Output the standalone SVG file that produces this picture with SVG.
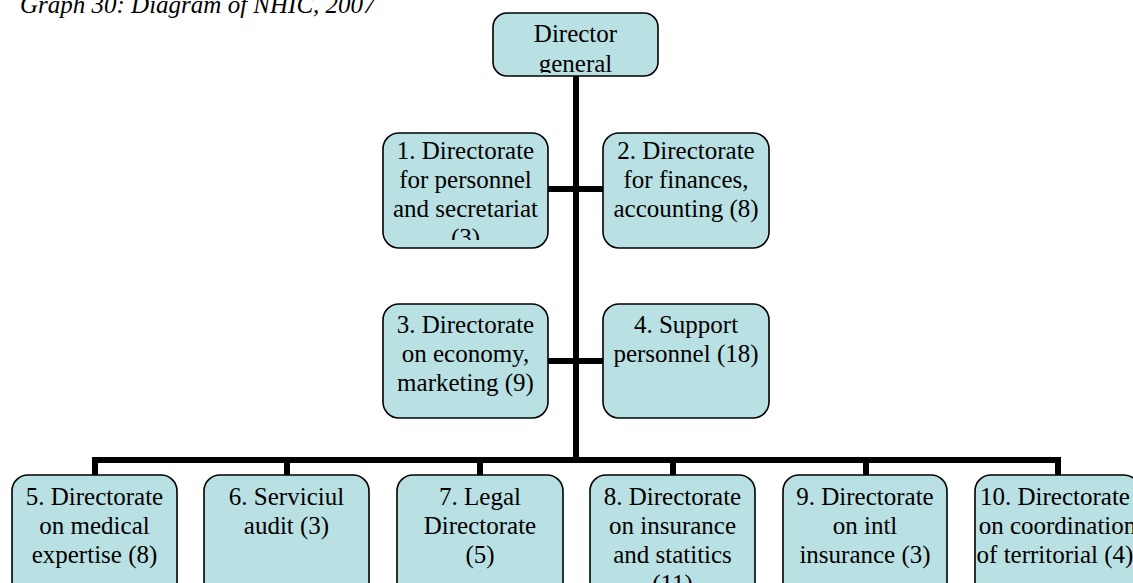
<svg xmlns="http://www.w3.org/2000/svg" width="1133" height="583" viewBox="0 0 1133 583">
<style>
.box{fill:#b9e0e3;stroke:#000;stroke-width:1.6}
.t{font-family:"Liberation Serif","Times New Roman",serif;font-size:25px;fill:#000;text-anchor:middle}
.title{font-family:"Liberation Serif","Times New Roman",serif;font-size:25px;font-style:italic;fill:#000}
.c{stroke:#000;stroke-width:6;fill:none}
</style>
<defs>
<clipPath id="cdir"><rect x="493" y="13" width="165" height="60"/></clipPath>
<clipPath id="c1"><rect x="383" y="133" width="165" height="107"/></clipPath>
</defs>
<rect width="1133" height="583" fill="#fff"/>
<text class="title" x="20" y="13">Graph 30: Diagram of NHIC, 2007</text>
<g id="connectors">
<line class="c" x1="576" y1="76" x2="576" y2="463"/>
<line class="c" x1="548" y1="189" x2="603" y2="189"/>
<line class="c" x1="548" y1="361" x2="603" y2="361"/>
<line class="c" x1="92" y1="460" x2="1061" y2="460"/>
<line class="c" x1="95" y1="460" x2="95" y2="475"/>
<line class="c" x1="287" y1="460" x2="287" y2="475"/>
<line class="c" x1="480" y1="460" x2="480" y2="475"/>
<line class="c" x1="673" y1="460" x2="673" y2="475"/>
<line class="c" x1="866" y1="460" x2="866" y2="475"/>
<line class="c" x1="1058" y1="460" x2="1058" y2="475"/>
</g>
<g id="director">
<rect class="box" x="493" y="13" width="165" height="63" rx="14"/>
<g clip-path="url(#cdir)"><text class="t" x="575.5" y="42">Director</text><text class="t" x="575.5" y="72">general</text></g>
</g>
<g id="n1">
<rect class="box" x="383" y="133" width="165" height="115" rx="16"/>
<g clip-path="url(#c1)"><text class="t" x="465.5" y="159">1. Directorate</text><text class="t" x="465.5" y="188">for personnel</text><text class="t" x="465.5" y="217">and secretariat</text><text class="t" x="465.5" y="246">(3)</text></g>
</g>
<g id="n2">
<rect class="box" x="603" y="133" width="166" height="115" rx="16"/>
<text class="t" x="686" y="159">2. Directorate</text><text class="t" x="686" y="188">for finances,</text><text class="t" x="686" y="217">accounting (8)</text>
</g>
<g id="n3">
<rect class="box" x="383" y="304" width="165" height="114" rx="16"/>
<text class="t" x="465.5" y="333">3. Directorate</text><text class="t" x="465.5" y="362">on economy,</text><text class="t" x="465.5" y="391">marketing (9)</text>
</g>
<g id="n4">
<rect class="box" x="603" y="304" width="166" height="114" rx="16"/>
<text class="t" x="686" y="333">4. Support</text><text class="t" x="686" y="362">personnel (18)</text>
</g>
<g id="n5">
<rect class="box" x="12" y="475" width="165" height="130" rx="16"/>
<text class="t" x="94.5" y="505">5. Directorate</text><text class="t" x="94.5" y="534">on medical</text><text class="t" x="94.5" y="563">expertise (8)</text>
</g>
<g id="n6">
<rect class="box" x="204" y="475" width="165" height="130" rx="16"/>
<text class="t" x="286.5" y="505">6. Serviciul</text><text class="t" x="286.5" y="534">audit (3)</text>
</g>
<g id="n7">
<rect class="box" x="397" y="475" width="166" height="130" rx="16"/>
<text class="t" x="480" y="505">7. Legal</text><text class="t" x="480" y="534">Directorate</text><text class="t" x="480" y="563">(5)</text>
</g>
<g id="n8">
<rect class="box" x="590" y="475" width="165" height="130" rx="16"/>
<text class="t" x="672.5" y="505">8. Directorate</text><text class="t" x="672.5" y="534">on insurance</text><text class="t" x="672.5" y="563">and statitics</text><text class="t" x="672.5" y="592">(11)</text>
</g>
<g id="n9">
<rect class="box" x="783" y="475" width="164" height="130" rx="16"/>
<text class="t" x="865" y="505">9. Directorate</text><text class="t" x="865" y="534">on intl</text><text class="t" x="865" y="563">insurance (3)</text>
</g>
<g id="n10">
<rect class="box" x="975" y="475" width="165" height="130" rx="16"/>
<text class="t" x="1055" y="505">10. Directorate</text><text class="t" x="1057.5" y="534">on coordination</text><text class="t" x="1055" y="563">of territorial (4)</text>
</g>
</svg>
